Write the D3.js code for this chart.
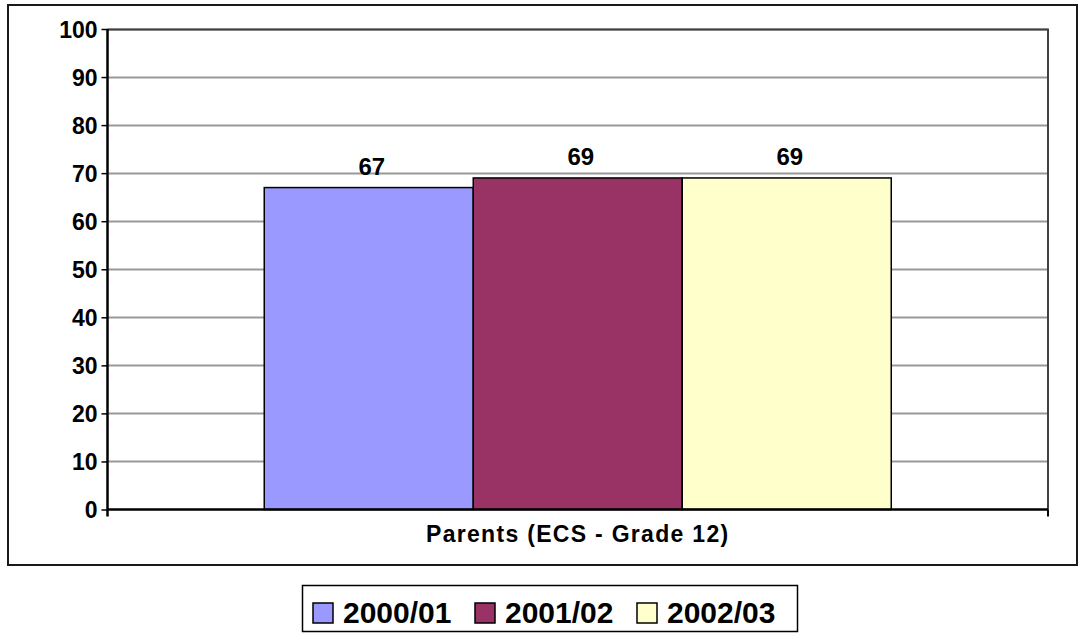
<!DOCTYPE html>
<html lang="en">
	<head>
		<meta charset="utf-8">
		<title>Parents satisfaction</title>
		<script type="text/javascript" src="https://cdn.jsdelivr.net/npm/d3@7"></script>
		<style>
			body{
				margin:0;
				background-color:white;
				font-family:"Liberation Sans", Arial, sans-serif;
			}
			text{
				font-weight:bold;
				fill:black;
			}
		</style>
	</head>
	
	<body>
		<div id="barChart"></div>

		<script type="text/javascript">
			
			// data
			var categories = ["Parents (ECS - Grade 12)"]
			var years = ["2000/01","2001/02","2002/03"]
			var values = [67,69,69]
			var yTicks = [0,10,20,30,40,50,60,70,80,90,100]
			var colors = ["#9999FF","#993366","#FFFFCC"]
			
			var w = 1081
			var h = 637
			
			// plot area edges (window.top is taken, so prefixed names)
			var plotLeft = 107.5
			var plotRight = 1048
			var plotTop = 29
			var plotBottom = 509.5
			
			var svg = d3.select("#barChart").append("svg")
			.attr("width",w)
			.attr("height",h)
			
			// outer chart frame
			svg.append("rect")
			.attr("x",8)
			.attr("y",5)
			.attr("width",1069)
			.attr("height",560)
			.attr("fill","white")
			.attr("stroke","#1a1a1a")
			.attr("stroke-width",2)
			
			var yScale = d3.scaleLinear()
			.domain([0,100])
			.range([plotBottom,plotTop])
			
			var xScale = d3.scaleBand()
			.domain(categories)
			.range([plotLeft,plotRight])
			
			var x1 = d3.scaleBand()
			.domain(years)
			.range([0,xScale.bandwidth()])
			.paddingInner(0)
			.paddingOuter(0.75)
			
			// gridlines
			svg.append("g")
			.selectAll("line")
			.data(yTicks.filter(function(d){ return d>0 }))
			.enter()
			.append("line")
			.attr("x1",plotLeft)
			.attr("x2",plotRight)
			.attr("y1",function(d){ return Math.round(yScale(d))+0.5 })
			.attr("y2",function(d){ return Math.round(yScale(d))+0.5 })
			.attr("stroke","#999999")
			.attr("stroke-width",2)
			
			// plot area top and right border
			svg.append("path")
			.attr("d","M"+plotLeft+","+(plotTop+0.5)+"H"+plotRight+"V"+plotBottom)
			.attr("fill","none")
			.attr("stroke","#404040")
			.attr("stroke-width",2)
			
			// bars
			var cat = categories[0]
			svg.append("g")
			.selectAll("rect")
			.data(values)
			.enter()
			.append("rect")
			.attr("x",function(d,i){
				return xScale(cat)+x1(years[i])
			})
			.attr("y",function(d){
				return yScale(d)
			})
			.attr("width",x1.bandwidth())
			.attr("height",function(d){
				return plotBottom-yScale(d)
			})
			.attr("fill",function(d,i){ return colors[i] })
			.attr("stroke","black")
			.attr("stroke-width",1.5)
			
			// value labels
			svg.append("g")
			.selectAll("text")
			.data(values)
			.enter()
			.append("text")
			.attr("x",function(d,i){
				return xScale(cat)+x1(years[i])+x1.bandwidth()/2+3
			})
			.attr("y",function(d){
				return yScale(d)-13
			})
			.attr("text-anchor","middle")
			.style("font-size","24px")
			.text(function(d){ return d })
			
			// y axis
			var yAxis = d3.axisLeft()
			.scale(yScale)
			.tickValues(yTicks)
			.tickSize(6)
			.tickPadding(4)
			
			var yG = svg.append("g")
			.attr("transform","translate("+plotLeft+",0)")
			.call(yAxis)
			yG.select(".domain").remove()
			yG.append("line")
			.attr("x1",0).attr("x2",0)
			.attr("y1",plotTop).attr("y2",plotBottom+7)
			.attr("stroke","black")
			.attr("stroke-width",2.5)
			yG.selectAll(".tick line")
			.attr("stroke","black")
			.attr("stroke-width",1.5)
			yG.selectAll(".tick text")
			.style("font-size","23px")
			.style("font-family","'Liberation Sans', Arial, sans-serif")
			.attr("dy","0.36em")
			
			// x axis
			var xAxis = d3.axisBottom()
			.scale(xScale)
			.tickSize(0)
			.tickFormat("")
			
			var xG = svg.append("g")
			.attr("transform","translate(0,"+plotBottom+")")
			.call(xAxis)
			xG.select(".domain")
			.attr("stroke","black")
			.attr("stroke-width",2.5)
			.attr("d","M"+plotLeft+",0H"+plotRight)
			xG.append("line")
			.attr("x1",plotRight).attr("x2",plotRight)
			.attr("y1",0).attr("y2",7)
			.attr("stroke","black")
			.attr("stroke-width",2)
			
			xG.append("text")
			.attr("x",xScale(cat)+xScale.bandwidth()/2)
			.attr("y",32.5)
			.attr("text-anchor","middle")
			.style("font-size","23px")
			.style("letter-spacing","1.3px")
			.text(cat)
			
			// legend
			var legend = svg.append("g")
			
			legend.append("rect")
			.attr("x",302.5)
			.attr("y",585.5)
			.attr("width",495)
			.attr("height",46)
			.attr("fill","white")
			.attr("stroke","black")
			.attr("stroke-width",1.5)
			
			var item = legend.selectAll("g")
			.data(years)
			.enter()
			.append("g")
			.attr("transform",function(d,i){
				return "translate("+(313+i*162)+",603)"
			})
			
			item.append("rect")
			.attr("width",20)
			.attr("height",20)
			.attr("fill",function(d,i){ return colors[i] })
			.attr("stroke","black")
			.attr("stroke-width",1.5)
			
			item.append("text")
			.attr("x",30)
			.attr("y",20)
			.style("font-size","30px")
			.text(function(d){ return d })
			
		</script>
	</body>
</html>
